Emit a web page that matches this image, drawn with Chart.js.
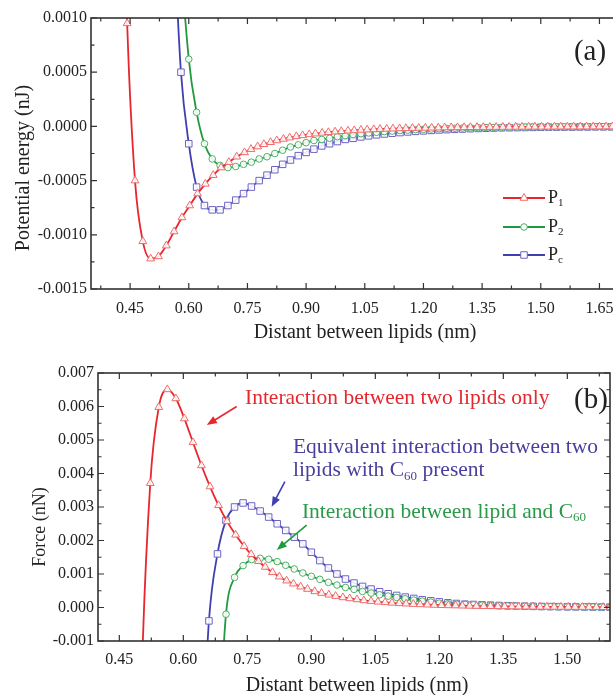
<!DOCTYPE html>
<html><head><meta charset="utf-8">
<script src="https://cdn.jsdelivr.net/npm/chart.js@4.4.1/dist/chart.umd.min.js"></script>
<style>
html,body{margin:0;padding:0;background:#fff;overflow:hidden;width:613px;height:695px;}
#wa{position:absolute;left:0;top:0;width:640px;height:345px;}
#wb{position:absolute;left:0;top:355px;width:640px;height:340px;}
canvas{display:block;}
</style></head><body>
<div id="wa"><canvas id="ca" width="640" height="345"></canvas></div>
<div id="wb"><canvas id="cb" width="640" height="340"></canvas></div>
<script>
// ---------- data ----------
const xRed = [0.4225,0.4425,0.4625,0.4825,0.5025,0.5225,0.5425,0.5625,0.5825,0.6025,0.6225,0.6425,0.6625,0.6825,0.7025,0.7225,0.7425,
0.759,0.776,0.792,0.809,0.825,0.842,0.858,0.875,0.891,0.908,0.924,0.941,0.957,0.974,0.990,1.007,1.023,1.040,1.056,1.073,
1.089,1.106,1.122,1.139,1.155,1.172,1.188,1.205,1.221,1.238,1.254,1.271,1.287,1.304,1.320,1.337,1.353,1.370,1.386,1.403,
1.419,1.436,1.452,1.469,1.485,1.502,1.518,1.535,1.551,1.568,1.584,1.601,1.617,1.634,1.650,1.667,1.683,1.700];

const potP1 = [0.0038,0.00095,-0.0005,-0.00106,-0.00122,-0.00120,-0.00110,-0.00097,-0.00084,-0.00073,-0.00062,-0.00053,-0.00045,-0.00038,-0.00033,-0.00028,-0.00024,
-0.00021,-0.000186,-0.000165,-0.000146,-0.00013,-0.000116,-0.000104,-0.000092,-0.000083,-0.000074,-0.000067,-0.00006,-0.000054,-0.000049,-0.000045,-0.00004,-0.000037,-0.000033,-0.00003,-0.000028,
-0.000025,-0.000023,-0.000021,-0.000019,-0.000018,-0.000016,-0.000015,-0.000014,-0.000013,-0.000012,-0.000011,-0.00001,-0.0000093,-0.0000086,-0.000008,-0.0000074,-0.0000069,-0.0000064,-0.000006,-0.0000055,
-0.0000052,-0.0000048,-0.0000045,-0.0000042,-0.0000039,-0.0000037,-0.0000034,-0.0000032,-0.000003,-0.0000029,-0.0000027,-0.0000025,-0.0000024,-0.0000022,-0.0000021,-0.000002,-0.0000019,-0.0000018];

const forceP1 = [null,null,null,-0.0151,-0.00212,0.00371,0.00598,0.00651,0.00624,0.00564,0.00493,0.00424,0.00361,0.00305,0.00257,0.00217,0.00183,
0.00159,0.00138,0.00121,0.00105,0.00092,0.0008,0.00071,0.00062,0.00055,0.00048,0.00043,0.00038,0.00034,0.0003,0.00027,0.00024,0.00021,0.00019,0.00017,0.000153,
0.000138,0.000124,0.000112,0.000101,0.000092,0.000083,0.000075,0.000068,0.000062,0.000057,0.000052,0.000047,0.000043,0.000039,0.000036,0.000033,0.000031,0.000028,0.000026,0.000024,
0.000022,0.00002,0.000019,0.000017,0.000016,0.000015,0.000014,0.000013,0.000012,0.000011,0.00001,0.0000094,0.0000088,0.0000082,0.0000077,0.0000071,0.0000067,0.0000062];

const xCg = [0.56,0.58,0.60,0.62,0.64,0.66,0.68,0.70,0.72,0.74,0.76,0.78,0.80,0.82,0.84,0.86,0.88,0.90,0.92,0.94,0.96,0.98,
1.00,1.02,1.04,1.06,1.08,1.10,1.12,1.14,1.16,1.18,1.20,1.22,1.24,1.26,1.28,1.30,1.32,1.34,1.36,1.38,1.40,1.42,1.44,1.46,1.48,
1.50,1.52,1.54,1.56,1.58,1.60,1.62,1.64,1.66,1.68,1.70];

const potP2 = [0.0035,0.0016,0.00062,0.00013,-0.00016,-0.0003,-0.00036,-0.00038,-0.00037,-0.00035,-0.00033,-0.0003,-0.00028,-0.00025,-0.00022,-0.00019,-0.00017,-0.00015,-0.00013,-0.00012,-0.00011,-0.000095,
-0.000085,-0.000075,-0.000067,-0.00006,-0.000054,-0.000048,-0.000043,-0.000038,-0.000034,-0.00003,-0.000027,-0.000024,-0.000021,-0.000019,-0.000017,-0.000015,-0.000013,-0.000012,-0.000011,-0.00001,-0.000009,-0.000008,-0.000007,-0.000007,-0.000006,
-0.000006,-0.000005,-0.000005,-0.000004,-0.000004,-0.000004,-0.000003,-0.000003,-0.000003,-0.000003,-0.000002];

const potPc = [0.0019,0.0005,-0.00016,-0.00056,-0.00073,-0.00077,-0.00077,-0.00073,-0.00068,-0.00062,-0.00056,-0.0005,-0.00045,-0.0004,-0.00035,-0.00031,-0.00027,-0.00024,-0.00021,-0.00018,-0.00016,-0.00014,
-0.00012,-0.00011,-0.000097,-0.000087,-0.000078,-0.00007,-0.000063,-0.000057,-0.000051,-0.000046,-0.000041,-0.000037,-0.000033,-0.00003,-0.000027,-0.000024,-0.000021,-0.000019,-0.000017,-0.000015,-0.000013,-0.000012,-0.000011,-0.00001,-0.000009,
-0.000008,-0.000007,-0.000007,-0.000006,-0.000006,-0.000005,-0.000005,-0.000004,-0.000004,-0.000004,-0.000003];

const forceC60 = [null,null,null,null,null,null,-0.0045,-0.0002,0.0009,0.00125,0.00143,0.00147,0.00144,0.00137,0.00126,0.00115,0.00103,0.00093,0.00084,0.00075,0.00067,0.0006,
0.00054,0.00048,0.00043,0.00038,0.00034,0.0003,0.00026,0.00022,0.00019,0.00016,0.00013,0.00011,0.0001,0.00009,0.00008,0.00007,0.00006,0.00005,0.000045,0.00004,0.000035,0.00003,0.000027,0.000024,0.000021,
0.000019,0.000017,0.000015,0.000013,0.000012,0.000011,0.00001,0.000009,0.000008,0.000008,0.000007];

const forcePc = [null,null,null,null,-0.0055,-0.0004,0.0016,0.0026,0.0030,0.00312,0.00303,0.00288,0.0027,0.0025,0.0023,0.0021,0.0019,0.00165,0.0014,0.00118,0.001,0.00085,
0.00073,0.00063,0.00055,0.00047,0.00041,0.00036,0.00031,0.00027,0.00023,0.0002,0.00017,0.00014,0.00012,0.0001,0.00009,0.00008,0.00007,0.00006,0.00005,0.000045,0.00004,0.000035,0.00003,0.000027,0.000024,
0.000021,0.000019,0.000017,0.000015,0.000013,0.000012,0.000011,0.00001,0.000009,0.000009,0.000008];

// ticks
const xMajorA = [0.45,0.60,0.75,0.90,1.05,1.20,1.35,1.50,1.65];
const xMinorA = [0.375,0.525,0.675,0.825,0.975,1.125,1.275,1.425,1.575];
const yMajorA = [-0.0015,-0.001,-0.0005,0,0.0005,0.001];
const yMinorA = [-0.00125,-0.00075,-0.00025,0.00025,0.00075];
const xMajorB = [0.45,0.60,0.75,0.90,1.05,1.20,1.35,1.50];
const xMinorB = [0.525,0.675,0.825,0.975,1.125,1.275,1.425,1.575];
const yMajorB = [-0.001,0,0.001,0.002,0.003,0.004,0.005,0.006,0.007];
const yMinorB = [-0.0005,0.0005,0.0015,0.0025,0.0035,0.0045,0.0055,0.0065];

const legendNames = [['P','1'],['P','2'],['P','c']];

// ---------- styles ----------
const SERIF = "'Liberation Serif','Times New Roman',serif";
const RED = '#e8262e', GREEN = '#1f9a3e', BLUE = '#3f3fb2';
const RED_M = '#ef6a6a', GREEN_M = '#4cb066', BLUE_M = '#6b62c4';
const AXIS = '#333333';
Chart.defaults.font.family = SERIF;
Chart.defaults.color = '#222';

function tickList(majors, minors){
  return majors.map(v=>({value:v, major:true})).concat(minors.map(v=>({value:v, major:false}))).sort((a,b)=>a.value-b.value);
}
function pts(xs, ys){ return xs.map((x,i)=>({x:x, y:ys[i]})); }

function series(label, xs, ys, color, mcolor, style, r){
  return {label, data: pts(xs, ys), borderColor: color, backgroundColor: color, borderWidth: 1.8,
    pointStyle: style, pointRadius: r, pointBorderWidth: 1, pointBorderColor: mcolor,
    pointBackgroundColor: 'rgba(255,255,255,0.9)', cubicInterpolationMode: 'monotone', spanGaps: false};
}

function markerPath(ctx, style, x, y, r){
  ctx.beginPath();
  if (style === 'triangle'){
    let a = 0;
    ctx.moveTo(x + Math.sin(a)*r, y - Math.cos(a)*r);
    a += 2*Math.PI/3; ctx.lineTo(x + Math.sin(a)*r, y - Math.cos(a)*r);
    a += 2*Math.PI/3; ctx.lineTo(x + Math.sin(a)*r, y - Math.cos(a)*r);
    ctx.closePath();
  } else if (style === 'rect'){
    const s = r*Math.SQRT1_2; ctx.rect(x-s, y-s, 2*s, 2*s);
  } else { ctx.arc(x, y, r, 0, Math.PI*2); }
}

const frameTicks = {
  id: 'frameTicks',
  afterDraw(chart){
    const {ctx, chartArea:a} = chart; const xs = chart.scales.x, ys = chart.scales.y;
    ctx.save();
    ctx.strokeStyle = AXIS; ctx.lineWidth = 1.2;
    ctx.beginPath();
    xs.ticks.forEach(t=>{ const p = xs.getPixelForValue(t.value); const L = t.major ? 6 : 3.5;
      ctx.moveTo(p, a.bottom); ctx.lineTo(p, a.bottom - L); ctx.moveTo(p, a.top); ctx.lineTo(p, a.top + L); });
    ys.ticks.forEach(t=>{ const p = ys.getPixelForValue(t.value); const L = t.major ? 6 : 3.5;
      ctx.moveTo(a.left, p); ctx.lineTo(a.left + L, p); ctx.moveTo(a.right, p); ctx.lineTo(a.right - L, p); });
    ctx.stroke();
    ctx.lineWidth = 1.6;
    ctx.strokeRect(a.left, a.top, a.right - a.left, a.bottom - a.top);
    ctx.restore();
  }
};

function drawRich(ctx, segs, x, y, size, color){
  let cx = x;
  ctx.fillStyle = color; ctx.textAlign = 'left'; ctx.textBaseline = 'middle';
  segs.forEach(s=>{
    const fs = s.sub ? Math.round(size*0.6) : size;
    ctx.font = fs + 'px ' + SERIF;
    ctx.fillText(s.t, cx, s.sub ? y + size*0.28 : y);
    cx += ctx.measureText(s.t).width;
  });
}

const textLayer = {
  id: 'textLayer',
  afterDraw(chart, args, opts){
    const ctx = chart.ctx; ctx.save();
    (opts.titles || []).forEach(t=>{
      ctx.save(); ctx.translate(t.x, t.y); if (t.rot) ctx.rotate(t.rot);
      ctx.font = t.size + 'px ' + SERIF; ctx.fillStyle = '#222'; ctx.textAlign = 'center'; ctx.textBaseline = 'middle';
      ctx.fillText(t.text, 0, 0); ctx.restore();
    });
    const xs = chart.scales.x, ys = chart.scales.y;
    (opts.arrows || []).forEach(ar=>{
      const x1 = xs.getPixelForValue(ar.from[0]), y1 = ys.getPixelForValue(ar.from[1]);
      const x2 = xs.getPixelForValue(ar.to[0]), y2 = ys.getPixelForValue(ar.to[1]);
      const ang = Math.atan2(y2-y1, x2-x1), hl = 10, hw = 4;
      ctx.strokeStyle = ar.color; ctx.fillStyle = ar.color; ctx.lineWidth = 1.6;
      ctx.beginPath(); ctx.moveTo(x1, y1); ctx.lineTo(x2 - Math.cos(ang)*hl*0.8, y2 - Math.sin(ang)*hl*0.8); ctx.stroke();
      ctx.beginPath(); ctx.moveTo(x2, y2);
      ctx.lineTo(x2 - Math.cos(ang)*hl - Math.sin(ang)*hw, y2 - Math.sin(ang)*hl + Math.cos(ang)*hw);
      ctx.lineTo(x2 - Math.cos(ang)*hl + Math.sin(ang)*hw, y2 - Math.sin(ang)*hl - Math.cos(ang)*hw);
      ctx.closePath(); ctx.fill();
    });
    (opts.notes || []).forEach(n=>{
      drawRich(ctx, n.segs, xs.getPixelForValue(n.at[0]), ys.getPixelForValue(n.at[1]), n.size, n.color);
    });
    if (opts.legend){
      const L = opts.legend;
      chart.data.datasets.forEach((d,i)=>{
        const y = L.rows[i];
        ctx.strokeStyle = d.borderColor; ctx.lineWidth = 1.8;
        ctx.beginPath(); ctx.moveTo(L.x0, y); ctx.lineTo(L.x1, y); ctx.stroke();
        markerPath(ctx, d.pointStyle, (L.x0+L.x1)/2, y, d.pointRadius);
        ctx.fillStyle = '#fff'; ctx.fill(); ctx.strokeStyle = d.pointBorderColor; ctx.lineWidth = 1; ctx.stroke();
        drawRich(ctx, [{t: legendNames[i][0]}, {t: legendNames[i][1], sub:true}], L.tx, y, 18, '#222');
      });
    }
    ctx.restore();
  }
};

function axisOpts(majors, minors, fmt, fitKey, fitVal, min, max, pad){
  return {
    type: 'linear', min: min, max: max,
    grid: {display: false, drawTicks: false}, border: {display: false},
    ticks: {autoSkip: false, maxRotation: 0, padding: pad, color: '#222', font: {size: 16, family: SERIF},
      callback: (v, i, t) => (t[i] && t[i].major) ? v.toFixed(fmt) : ''},
    afterBuildTicks: s => { s.ticks = tickList(majors, minors); },
    afterFit: s => { s[fitKey] = fitVal; }
  };
}

const baseOpts = {responsive: false, animation: false, devicePixelRatio: 1, events: []};

new Chart(document.getElementById('ca'), {
  type: 'line',
  data: {datasets: [
    series('P1', xRed, potP1, RED, RED_M, 'triangle', 4.5),
    series('P2', xCg, potP2, GREEN, GREEN_M, 'circle', 3.3),
    series('Pc', xCg, potPc, BLUE, BLUE_M, 'rect', 4.6)
  ]},
  options: Object.assign({}, baseOpts, {
    layout: {padding: {left: 0, right: 21, top: 18, bottom: 0}},
    scales: {
      x: axisOpts(xMajorA, xMinorA, 2, 'height', 56, 0.35, 1.70, 10),
      y: axisOpts(yMajorA, yMinorA, 4, 'width', 91, -0.0015, 0.001, 4)
    },
    plugins: {legend: {display: false}, tooltip: {enabled: false},
      textLayer: {
        titles: [
          {text: 'Potential energy (nJ)', x: 24, y: 168, size: 20, rot: -Math.PI/2},
          {text: 'Distant between lipids (nm)', x: 365, y: 333, size: 20},
          {text: '(a)', x: 590, y: 52, size: 29}
        ],
        legend: {x0: 503, x1: 545, tx: 548, rows: [198, 227, 255]}
      }
    }
  }),
  plugins: [frameTicks, textLayer]
});

new Chart(document.getElementById('cb'), {
  type: 'line',
  data: {datasets: [
    series('Interaction between two lipids only', xRed, forceP1, RED, RED_M, 'triangle', 4.5),
    series('Interaction between lipid and C60', xCg, forceC60, GREEN, GREEN_M, 'circle', 3.3),
    series('Equivalent interaction between two lipids with C60 present', xCg, forcePc, BLUE, BLUE_M, 'rect', 4.6)
  ]},
  options: Object.assign({}, baseOpts, {
    layout: {padding: {left: 0, right: 30, top: 18, bottom: 0}},
    scales: {
      x: axisOpts(xMajorB, xMinorB, 2, 'height', 54, 0.40, 1.60, 9),
      y: axisOpts(yMajorB, yMinorB, 3, 'width', 98, -0.001, 0.007, 4)
    },
    plugins: {legend: {display: false}, tooltip: {enabled: false},
      textLayer: {
        titles: [
          {text: 'Force (nN)', x: 40, y: 172, size: 18, rot: -Math.PI/2},
          {text: 'Distant between lipids (nm)', x: 357, y: 331, size: 20},
          {text: '(b)', x: 591, y: 45, size: 29}
        ],
        arrows: [
          {from: [0.725, 0.0060], to: [0.655, 0.00545], color: RED},
          {from: [0.838, 0.00376], to: [0.807, 0.00301], color: BLUE},
          {from: [0.889, 0.00246], to: [0.819, 0.00172], color: GREEN}
        ],
        notes: [
          {at: [0.7445, 0.00625], size: 21.5, color: '#e5282e', segs: [{t: 'Interaction between two lipids only'}]},
          {at: [0.857, 0.00479], size: 21.5, color: '#483f9e', segs: [{t: 'Equivalent interaction between two'}]},
          {at: [0.857, 0.0041], size: 21.5, color: '#483f9e', segs: [{t: 'lipids with C'}, {t: '60', sub: true}, {t: ' present'}]},
          {at: [0.878, 0.00285], size: 21.5, color: '#2a9a48', segs: [{t: 'Interaction between lipid and C'}, {t: '60', sub: true}]}
        ]
      }
    }
  }),
  plugins: [frameTicks, textLayer]
});
</script>
</body></html>
